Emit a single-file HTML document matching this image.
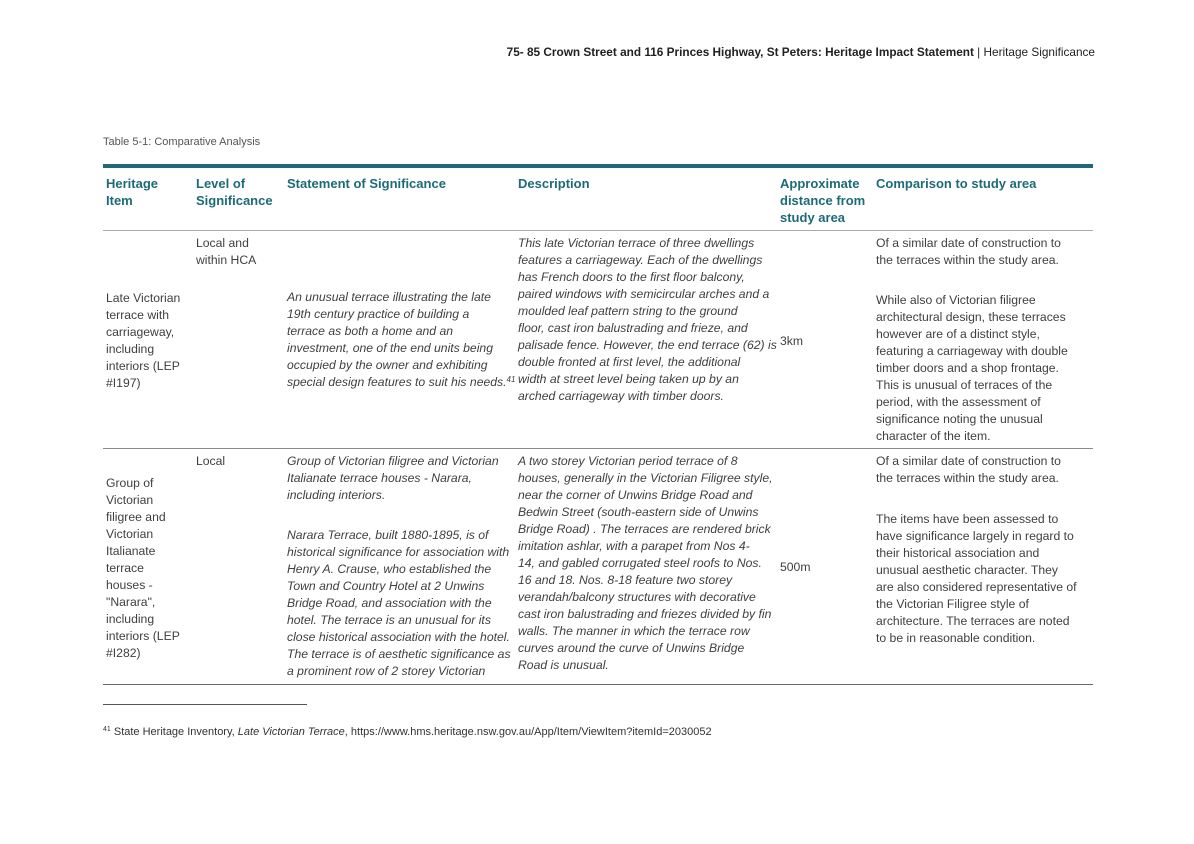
<!DOCTYPE html>
<html><head><meta charset="utf-8"><style>
*{margin:0;padding:0;box-sizing:border-box}
body{width:1194px;height:844px;background:#fff;position:relative;font-family:"Liberation Sans",sans-serif;color:#3f3f3f;overflow:hidden}
.a{position:absolute;white-space:nowrap}
.t{position:absolute;font-size:12.2px;line-height:17px;white-space:nowrap}
.i{font-style:italic}
.h{position:absolute;font-size:13px;line-height:17px;font-weight:bold;color:#1d6b78;white-space:nowrap}
.ln{position:absolute;height:1px;background:#8a8a8a}
sup{line-height:0;vertical-align:4px}
</style></head><body>
<div class="a" style="right:99px;top:45px;font-size:11.8px;color:#222"><b>75- 85 Crown Street and 116 Princes Highway, St Peters: Heritage Impact Statement</b> | Heritage Significance</div>
<div class="a" style="left:103px;top:136px;font-size:11px;color:#555">Table 5-1: Comparative Analysis</div>
<div style="position:absolute;left:103px;top:164px;width:990px;height:4px;background:#1d6b78"></div>
<div class="ln" style="left:103px;top:230px;width:990px;background:#aaa"></div>
<div class="ln" style="left:103px;top:448px;width:990px"></div>
<div class="ln" style="left:103px;top:684px;width:990px;background:#666"></div>

<div class="h" style="left:106px;top:175px">Heritage<br>Item</div>
<div class="h" style="left:196px;top:175px">Level of<br>Significance</div>
<div class="h" style="left:287px;top:175px">Statement of Significance</div>
<div class="h" style="left:518px;top:175px">Description</div>
<div class="h" style="left:780px;top:175px">Approximate<br>distance from<br>study area</div>
<div class="h" style="left:876px;top:175px">Comparison to study area</div>

<div class="t" style="left:106px;top:290px">Late Victorian<br>terrace with<br>carriageway,<br>including<br>interiors (LEP<br>#I197)</div>
<div class="t" style="left:196px;top:235px">Local and<br>within HCA</div>
<div class="t i" style="left:287px;top:289px">An unusual terrace illustrating the late<br>19th century practice of building a<br>terrace as both a home and an<br>investment, one of the end units being<br>occupied by the owner and exhibiting<br>special design features to suit his needs.<sup style="font-size:8px">41</sup></div>
<div class="t i" style="left:518px;top:235px">This late Victorian terrace of three dwellings<br>features a carriageway. Each of the dwellings<br>has French doors to the first floor balcony,<br>paired windows with semicircular arches and a<br>moulded leaf pattern string to the ground<br>floor, cast iron balustrading and frieze, and<br>palisade fence. However, the end terrace (62) is<br>double fronted at first level, the additional<br>width at street level being taken up by an<br>arched carriageway with timber doors.</div>
<div class="t" style="left:780px;top:333px">3km</div>
<div class="t" style="left:876px;top:235px">Of a similar date of construction to<br>the terraces within the study area.</div>
<div class="t" style="left:876px;top:292px">While also of Victorian filigree<br>architectural design, these terraces<br>however are of a distinct style,<br>featuring a carriageway with double<br>timber doors and a shop frontage.<br>This is unusual of terraces of the<br>period, with the assessment of<br>significance noting the unusual<br>character of the item.</div>

<div class="t" style="left:106px;top:475px">Group of<br>Victorian<br>filigree and<br>Victorian<br>Italianate<br>terrace<br>houses -<br>"Narara",<br>including<br>interiors (LEP<br>#I282)</div>
<div class="t" style="left:196px;top:453px">Local</div>
<div class="t i" style="left:287px;top:453px">Group of Victorian filigree and Victorian<br>Italianate terrace houses - Narara,<br>including interiors.</div>
<div class="t i" style="left:287px;top:527px">Narara Terrace, built 1880-1895, is of<br>historical significance for association with<br>Henry A. Crause, who established the<br>Town and Country Hotel at 2 Unwins<br>Bridge Road, and association with the<br>hotel. The terrace is an unusual for its<br>close historical association with the hotel.<br>The terrace is of aesthetic significance as<br>a prominent row of 2 storey Victorian</div>
<div class="t i" style="left:518px;top:453px">A two storey Victorian period terrace of 8<br>houses, generally in the Victorian Filigree style,<br>near the corner of Unwins Bridge Road and<br>Bedwin Street (south-eastern side of Unwins<br>Bridge Road) . The terraces are rendered brick<br>imitation ashlar, with a parapet from Nos 4-<br>14, and gabled corrugated steel roofs to Nos.<br>16 and 18. Nos. 8-18 feature two storey<br>verandah/balcony structures with decorative<br>cast iron balustrading and friezes divided by fin<br>walls.  The manner in which the terrace row<br>curves around the curve of Unwins Bridge<br>Road is unusual.</div>
<div class="t" style="left:780px;top:559px">500m</div>
<div class="t" style="left:876px;top:453px">Of a similar date of construction to<br>the terraces within the study area.</div>
<div class="t" style="left:876px;top:511px">The items have been assessed to<br>have significance largely in regard to<br>their historical association and<br>unusual aesthetic character. They<br>are also considered representative of<br>the Victorian Filigree style of<br>architecture. The terraces are noted<br>to be in reasonable condition.</div>

<div class="ln" style="left:103px;top:704px;width:204px;background:#555"></div>
<div class="a" style="left:103px;top:726px;font-size:11px;color:#333"><sup style="font-size:7px">41</sup> State Heritage Inventory, <i>Late Victorian Terrace</i>, https://www.hms.heritage.nsw.gov.au/App/Item/ViewItem?itemId=2030052</div>
</body></html>
